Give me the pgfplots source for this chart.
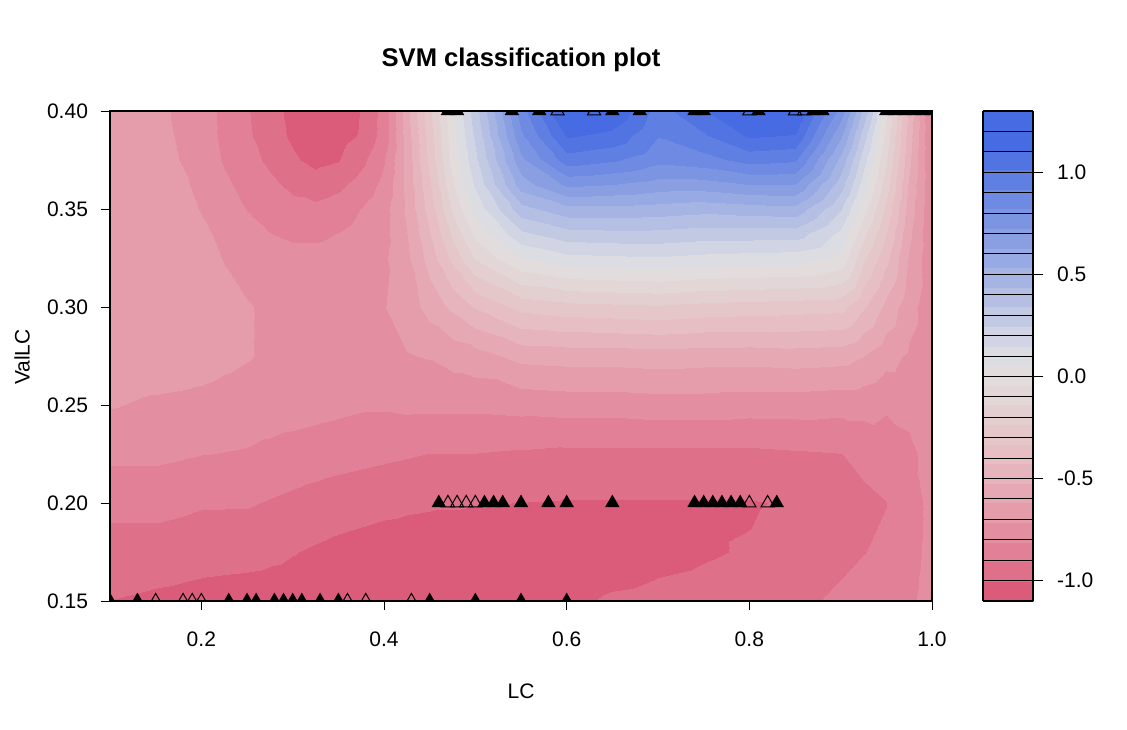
\documentclass[border=0pt]{standalone}
\usepackage{fontspec}
\setmainfont{Liberation Sans}
\usepackage{pgfplots}
\pgfplotsset{compat=1.18}
% lower half of a triangle (markers on the top edge, clipped by the box)
\pgfdeclareplotmark{tritopF}{%
  \pgfpathmoveto{\pgfqpoint{-0.57735\pgfplotmarksize}{0pt}}%
  \pgfpathlineto{\pgfqpoint{-0.86603\pgfplotmarksize}{-0.5\pgfplotmarksize}}%
  \pgfpathlineto{\pgfqpoint{0.86603\pgfplotmarksize}{-0.5\pgfplotmarksize}}%
  \pgfpathlineto{\pgfqpoint{0.57735\pgfplotmarksize}{0pt}}%
  \pgfpathclose
  \pgfusepathqfillstroke
}
\pgfdeclareplotmark{tritopO}{%
  \pgfpathmoveto{\pgfqpoint{-0.57735\pgfplotmarksize}{0pt}}%
  \pgfpathlineto{\pgfqpoint{-0.86603\pgfplotmarksize}{-0.5\pgfplotmarksize}}%
  \pgfpathlineto{\pgfqpoint{0.86603\pgfplotmarksize}{-0.5\pgfplotmarksize}}%
  \pgfpathlineto{\pgfqpoint{0.57735\pgfplotmarksize}{0pt}}%
  \pgfusepathqstroke
}
% upper part of a triangle (markers on the bottom edge)
\pgfdeclareplotmark{tribotF}{%
  \pgfpathmoveto{\pgfqpoint{-0.57735\pgfplotmarksize}{0pt}}%
  \pgfpathlineto{\pgfqpoint{0pt}{\pgfplotmarksize}}%
  \pgfpathlineto{\pgfqpoint{0.57735\pgfplotmarksize}{0pt}}%
  \pgfpathclose
  \pgfusepathqfillstroke
}
\pgfdeclareplotmark{tribotO}{%
  \pgfpathmoveto{\pgfqpoint{-0.57735\pgfplotmarksize}{0pt}}%
  \pgfpathlineto{\pgfqpoint{0pt}{\pgfplotmarksize}}%
  \pgfpathlineto{\pgfqpoint{0.57735\pgfplotmarksize}{0pt}}%
  \pgfusepathqstroke
}
\begin{document}
\begin{tikzpicture}[x=1pt,y=1pt]
\useasboundingbox (-55,-64) rectangle (508.5,300.5);
\begin{axis}[
  at={(0,0)}, anchor=south west,
  scale only axis, width=411pt, height=245pt,
  xmin=0.1, xmax=1.0, ymin=0.15, ymax=0.40,
  xtick={0.2,0.4,0.6,0.8,1.0},
  ytick={0.15,0.20,0.25,0.30,0.35,0.40},
  xtick pos=bottom, ytick pos=left,
  tick align=outside,
  major tick length=4.5pt,
  tick style={black, line width=0.5pt},
  axis line style={black, line width=0.6pt},
  /pgf/number format/assume math mode=true,
  xticklabel style={yshift=-7.5pt, font=\fontsize{10.5}{12}\selectfont, /pgf/number format/.cd, fixed, fixed zerofill, precision=1, assume math mode=true},
  yticklabel style={xshift=-3pt, font=\fontsize{10.5}{12}\selectfont, /pgf/number format/.cd, fixed, fixed zerofill, precision=2, assume math mode=true},
  colormap={svm}{
    rgb255=(218,92,122) rgb255=(222,112,138) rgb255=(225,128,150) rgb255=(227,143,161)
    rgb255=(229,157,171) rgb255=(230,169,180) rgb255=(230,180,188) rgb255=(230,190,195)
    rgb255=(229,199,202) rgb255=(228,207,208) rgb255=(227,214,214) rgb255=(226,220,220)
    rgb255=(220,221,226) rgb255=(208,212,227) rgb255=(194,201,227) rgb255=(180,191,227)
    rgb255=(166,180,227) rgb255=(152,170,227) rgb255=(138,159,226) rgb255=(124,149,226)
    rgb255=(110,138,226) rgb255=(96,127,226) rgb255=(82,116,226) rgb255=(70,107,226)
    rgb255=(70,107,226)},
  colormap access=piecewise constant,
  point meta min=-1.1, point meta max=1.3,
  colorbar,
  colorbar/width=25pt,
  colorbar style={
    at={(parent axis.north east)}, anchor=north west, xshift=17pt,
    scale only axis, height=245pt,
    ymin=-1.1, ymax=1.3,
    ytick={-1,-0.5,0,0.5,1},
    ytick pos=right,
    yticklabel pos=right,
    ytick align=outside,
    major tick length=5pt,
    tick style={black, line width=0.5pt},
    yticklabel style={xshift=3.5pt, font=\fontsize{10.5}{12}\selectfont, /pgf/number format/.cd, fixed, fixed zerofill, precision=1, assume math mode=true},
    extra y ticks={-1.0,-0.9,-0.8,-0.7,-0.6,-0.5,-0.4,-0.3,-0.2,-0.1,0,0.1,0.2,0.3,0.4,0.5,0.6,0.7,0.8,0.9,1.0,1.1,1.2},
    extra y tick labels={},
    extra y tick style={grid=major, major grid style={black, line width=0.5pt}, tick style={draw=none}},
    axis line style={black, line width=0.6pt},
    axis on top,
  },
  axis on top,
  clip=true,
  clip mode=individual,
  clip marker paths=true,
]
\addplot[surf, shader=interp, mesh/cols=27, point meta=explicit] table[row sep=\\, meta=z] {
x y z\\
0.10 0.150 -1.005\\ 0.15 0.150 -1.02\\ 0.20 0.150 -1.03\\ 0.225 0.150 -1.035\\ 0.25 0.150 -1.04\\ 0.275 0.150 -1.045\\ 0.30 0.150 -1.05\\ 0.325 0.150 -1.055\\ 0.35 0.150 -1.06\\ 0.375 0.150 -1.07\\ 0.40 0.150 -1.07\\ 0.425 0.150 -1.07\\ 0.45 0.150 -1.07\\ 0.475 0.150 -1.07\\ 0.50 0.150 -1.07\\ 0.55 0.150 -1.06\\ 0.60 0.150 -1.03\\ 0.65 0.150 -0.99\\ 0.70 0.150 -0.98\\ 0.75 0.150 -0.965\\ 0.80 0.150 -0.95\\ 0.85 0.150 -0.93\\ 0.90 0.150 -0.89\\ 0.925 0.150 -0.87\\ 0.95 0.150 -0.85\\ 0.975 0.150 -0.83\\ 1.00 0.150 -0.77\\
0.10 0.1625 -0.975\\ 0.15 0.1625 -0.99\\ 0.20 0.1625 -1.003\\ 0.225 0.1625 -1.008\\ 0.25 0.1625 -1.012\\ 0.275 0.1625 -1.018\\ 0.30 0.1625 -1.025\\ 0.325 0.1625 -1.035\\ 0.35 0.1625 -1.045\\ 0.375 0.1625 -1.055\\ 0.40 0.1625 -1.06\\ 0.425 0.1625 -1.06\\ 0.45 0.1625 -1.06\\ 0.475 0.1625 -1.065\\ 0.50 0.1625 -1.065\\ 0.55 0.1625 -1.065\\ 0.60 0.1625 -1.05\\ 0.65 0.1625 -1.025\\ 0.70 0.1625 -1.005\\ 0.75 0.1625 -0.99\\ 0.80 0.1625 -0.972\\ 0.85 0.1625 -0.95\\ 0.90 0.1625 -0.91\\ 0.925 0.1625 -0.89\\ 0.95 0.1625 -0.87\\ 0.975 0.1625 -0.84\\ 1.00 0.1625 -0.775\\
0.10 0.175 -0.95\\ 0.15 0.175 -0.95\\ 0.20 0.175 -0.96\\ 0.225 0.175 -0.965\\ 0.25 0.175 -0.97\\ 0.275 0.175 -0.985\\ 0.30 0.175 -1.00\\ 0.325 0.175 -1.015\\ 0.35 0.175 -1.03\\ 0.375 0.175 -1.04\\ 0.40 0.175 -1.05\\ 0.425 0.175 -1.05\\ 0.45 0.175 -1.05\\ 0.475 0.175 -1.06\\ 0.50 0.175 -1.06\\ 0.55 0.175 -1.07\\ 0.60 0.175 -1.07\\ 0.65 0.175 -1.06\\ 0.70 0.175 -1.04\\ 0.75 0.175 -1.015\\ 0.80 0.175 -0.995\\ 0.85 0.175 -0.97\\ 0.90 0.175 -0.93\\ 0.925 0.175 -0.91\\ 0.95 0.175 -0.89\\ 0.975 0.175 -0.85\\ 1.00 0.175 -0.78\\
0.10 0.1875 -0.915\\ 0.15 0.1875 -0.915\\ 0.20 0.1875 -0.93\\ 0.225 0.1875 -0.933\\ 0.25 0.1875 -0.935\\ 0.275 0.1875 -0.95\\ 0.30 0.1875 -0.965\\ 0.325 0.1875 -0.98\\ 0.35 0.1875 -0.995\\ 0.375 0.1875 -1.005\\ 0.40 0.1875 -1.015\\ 0.425 0.1875 -1.02\\ 0.45 0.1875 -1.023\\ 0.475 0.1875 -1.028\\ 0.50 0.1875 -1.03\\ 0.55 0.1875 -1.038\\ 0.60 0.1875 -1.04\\ 0.65 0.1875 -1.035\\ 0.70 0.1875 -1.025\\ 0.75 0.1875 -1.015\\ 0.80 0.1875 -1.005\\ 0.85 0.1875 -0.985\\ 0.90 0.1875 -0.94\\ 0.925 0.1875 -0.92\\ 0.95 0.1875 -0.90\\ 0.975 0.1875 -0.855\\ 1.00 0.1875 -0.78\\
0.10 0.200 -0.88\\ 0.15 0.200 -0.88\\ 0.20 0.200 -0.90\\ 0.225 0.200 -0.90\\ 0.25 0.200 -0.90\\ 0.275 0.200 -0.915\\ 0.30 0.200 -0.93\\ 0.325 0.200 -0.945\\ 0.35 0.200 -0.96\\ 0.375 0.200 -0.97\\ 0.40 0.200 -0.98\\ 0.425 0.200 -0.99\\ 0.45 0.200 -0.995\\ 0.475 0.200 -0.995\\ 0.50 0.200 -1.00\\ 0.55 0.200 -1.005\\ 0.60 0.200 -1.01\\ 0.65 0.200 -1.01\\ 0.70 0.200 -1.01\\ 0.75 0.200 -1.01\\ 0.80 0.200 -1.01\\ 0.85 0.200 -0.995\\ 0.90 0.200 -0.95\\ 0.925 0.200 -0.93\\ 0.95 0.200 -0.91\\ 0.975 0.200 -0.86\\ 1.00 0.200 -0.78\\
0.10 0.225 -0.79\\ 0.15 0.225 -0.79\\ 0.20 0.225 -0.81\\ 0.225 0.225 -0.815\\ 0.25 0.225 -0.82\\ 0.275 0.225 -0.835\\ 0.30 0.225 -0.85\\ 0.325 0.225 -0.86\\ 0.35 0.225 -0.87\\ 0.375 0.225 -0.88\\ 0.40 0.225 -0.89\\ 0.425 0.225 -0.90\\ 0.45 0.225 -0.91\\ 0.475 0.225 -0.91\\ 0.50 0.225 -0.91\\ 0.55 0.225 -0.92\\ 0.60 0.225 -0.93\\ 0.65 0.225 -0.93\\ 0.70 0.225 -0.93\\ 0.75 0.225 -0.93\\ 0.80 0.225 -0.93\\ 0.85 0.225 -0.92\\ 0.90 0.225 -0.91\\ 0.925 0.225 -0.88\\ 0.95 0.225 -0.86\\ 0.975 0.225 -0.83\\ 1.00 0.225 -0.78\\
0.10 0.250 -0.71\\ 0.15 0.250 -0.73\\ 0.20 0.250 -0.74\\ 0.225 0.250 -0.75\\ 0.25 0.250 -0.76\\ 0.275 0.250 -0.765\\ 0.30 0.250 -0.77\\ 0.325 0.250 -0.78\\ 0.35 0.250 -0.79\\ 0.375 0.250 -0.80\\ 0.40 0.250 -0.80\\ 0.425 0.250 -0.79\\ 0.45 0.250 -0.79\\ 0.475 0.250 -0.79\\ 0.50 0.250 -0.79\\ 0.55 0.250 -0.78\\ 0.60 0.250 -0.77\\ 0.65 0.250 -0.77\\ 0.70 0.250 -0.76\\ 0.75 0.250 -0.76\\ 0.80 0.250 -0.77\\ 0.85 0.250 -0.77\\ 0.90 0.250 -0.78\\ 0.925 0.250 -0.78\\ 0.95 0.250 -0.80\\ 0.975 0.250 -0.79\\ 1.00 0.250 -0.78\\
0.10 0.275 -0.66\\ 0.15 0.275 -0.665\\ 0.20 0.275 -0.68\\ 0.225 0.275 -0.695\\ 0.25 0.275 -0.71\\ 0.275 0.275 -0.73\\ 0.30 0.275 -0.74\\ 0.325 0.275 -0.74\\ 0.35 0.275 -0.735\\ 0.375 0.275 -0.74\\ 0.40 0.275 -0.74\\ 0.425 0.275 -0.72\\ 0.45 0.275 -0.71\\ 0.475 0.275 -0.68\\ 0.50 0.275 -0.66\\ 0.55 0.275 -0.59\\ 0.60 0.275 -0.58\\ 0.65 0.275 -0.58\\ 0.70 0.275 -0.57\\ 0.75 0.275 -0.58\\ 0.80 0.275 -0.58\\ 0.85 0.275 -0.57\\ 0.90 0.275 -0.58\\ 0.925 0.275 -0.62\\ 0.95 0.275 -0.68\\ 0.975 0.275 -0.73\\ 1.00 0.275 -0.78\\
0.10 0.300 -0.64\\ 0.15 0.300 -0.645\\ 0.20 0.300 -0.67\\ 0.225 0.300 -0.69\\ 0.25 0.300 -0.71\\ 0.275 0.300 -0.73\\ 0.30 0.300 -0.74\\ 0.325 0.300 -0.74\\ 0.35 0.300 -0.735\\ 0.375 0.300 -0.73\\ 0.40 0.300 -0.72\\ 0.425 0.300 -0.67\\ 0.45 0.300 -0.58\\ 0.475 0.300 -0.50\\ 0.50 0.300 -0.42\\ 0.55 0.300 -0.30\\ 0.60 0.300 -0.27\\ 0.65 0.300 -0.26\\ 0.70 0.300 -0.25\\ 0.75 0.300 -0.27\\ 0.80 0.300 -0.28\\ 0.85 0.300 -0.29\\ 0.90 0.300 -0.30\\ 0.925 0.300 -0.42\\ 0.95 0.300 -0.55\\ 0.975 0.300 -0.68\\ 1.00 0.300 -0.78\\
0.10 0.325 -0.63\\ 0.15 0.325 -0.645\\ 0.20 0.325 -0.68\\ 0.225 0.325 -0.72\\ 0.25 0.325 -0.75\\ 0.275 0.325 -0.77\\ 0.30 0.325 -0.78\\ 0.325 0.325 -0.78\\ 0.35 0.325 -0.77\\ 0.375 0.325 -0.755\\ 0.40 0.325 -0.73\\ 0.425 0.325 -0.64\\ 0.45 0.325 -0.48\\ 0.475 0.325 -0.30\\ 0.50 0.325 -0.13\\ 0.55 0.325 0.05\\ 0.60 0.325 0.12\\ 0.65 0.325 0.13\\ 0.70 0.325 0.14\\ 0.75 0.325 0.12\\ 0.80 0.325 0.11\\ 0.85 0.325 0.10\\ 0.90 0.325 0.03\\ 0.925 0.325 -0.22\\ 0.95 0.325 -0.40\\ 0.975 0.325 -0.63\\ 1.00 0.325 -0.79\\
0.10 0.3375 -0.63\\ 0.15 0.3375 -0.65\\ 0.20 0.3375 -0.695\\ 0.225 0.3375 -0.74\\ 0.25 0.3375 -0.78\\ 0.275 0.3375 -0.81\\ 0.30 0.3375 -0.83\\ 0.325 0.3375 -0.83\\ 0.35 0.3375 -0.81\\ 0.375 0.3375 -0.78\\ 0.40 0.3375 -0.745\\ 0.425 0.3375 -0.62\\ 0.45 0.3375 -0.43\\ 0.475 0.3375 -0.21\\ 0.50 0.3375 -0.02\\ 0.55 0.3375 0.22\\ 0.60 0.3375 0.30\\ 0.65 0.3375 0.31\\ 0.70 0.3375 0.31\\ 0.75 0.3375 0.29\\ 0.80 0.3375 0.29\\ 0.85 0.3375 0.29\\ 0.90 0.3375 0.12\\ 0.925 0.3375 -0.12\\ 0.95 0.3375 -0.33\\ 0.975 0.3375 -0.60\\ 1.00 0.3375 -0.80\\
0.10 0.350 -0.625\\ 0.15 0.350 -0.655\\ 0.20 0.350 -0.72\\ 0.225 0.350 -0.77\\ 0.25 0.350 -0.815\\ 0.275 0.350 -0.85\\ 0.30 0.350 -0.88\\ 0.325 0.350 -0.885\\ 0.35 0.350 -0.86\\ 0.375 0.350 -0.81\\ 0.40 0.350 -0.75\\ 0.425 0.350 -0.60\\ 0.45 0.350 -0.38\\ 0.475 0.350 -0.12\\ 0.50 0.350 0.08\\ 0.55 0.350 0.40\\ 0.60 0.350 0.50\\ 0.65 0.350 0.50\\ 0.70 0.350 0.49\\ 0.75 0.350 0.47\\ 0.80 0.350 0.49\\ 0.85 0.350 0.50\\ 0.90 0.350 0.25\\ 0.925 0.350 -0.01\\ 0.95 0.350 -0.26\\ 0.975 0.350 -0.57\\ 1.00 0.350 -0.80\\
0.10 0.3625 -0.62\\ 0.15 0.3625 -0.66\\ 0.20 0.3625 -0.735\\ 0.225 0.3625 -0.795\\ 0.25 0.3625 -0.84\\ 0.275 0.3625 -0.885\\ 0.30 0.3625 -0.93\\ 0.325 0.3625 -0.96\\ 0.35 0.3625 -0.93\\ 0.375 0.3625 -0.87\\ 0.40 0.3625 -0.785\\ 0.425 0.3625 -0.59\\ 0.45 0.3625 -0.34\\ 0.475 0.3625 -0.05\\ 0.50 0.3625 0.16\\ 0.55 0.3625 0.58\\ 0.60 0.3625 0.74\\ 0.65 0.3625 0.72\\ 0.70 0.3625 0.68\\ 0.75 0.3625 0.68\\ 0.80 0.3625 0.72\\ 0.85 0.3625 0.72\\ 0.90 0.3625 0.38\\ 0.925 0.3625 0.09\\ 0.95 0.3625 -0.19\\ 0.975 0.3625 -0.54\\ 1.00 0.3625 -0.81\\
0.10 0.375 -0.62\\ 0.15 0.375 -0.67\\ 0.20 0.375 -0.76\\ 0.225 0.375 -0.82\\ 0.25 0.375 -0.87\\ 0.275 0.375 -0.93\\ 0.30 0.375 -0.99\\ 0.325 0.375 -1.03\\ 0.35 0.375 -1.01\\ 0.375 0.375 -0.935\\ 0.40 0.375 -0.82\\ 0.425 0.375 -0.58\\ 0.45 0.375 -0.30\\ 0.475 0.375 0.00\\ 0.50 0.375 0.22\\ 0.55 0.375 0.70\\ 0.60 0.375 0.97\\ 0.65 0.375 0.93\\ 0.70 0.375 0.85\\ 0.75 0.375 0.88\\ 0.80 0.375 0.95\\ 0.85 0.375 0.93\\ 0.90 0.375 0.50\\ 0.925 0.375 0.18\\ 0.95 0.375 -0.13\\ 0.975 0.375 -0.50\\ 1.00 0.375 -0.82\\
0.10 0.3875 -0.62\\ 0.15 0.3875 -0.68\\ 0.20 0.3875 -0.77\\ 0.225 0.3875 -0.83\\ 0.25 0.3875 -0.89\\ 0.275 0.3875 -0.965\\ 0.30 0.3875 -1.02\\ 0.325 0.3875 -1.055\\ 0.35 0.3875 -1.04\\ 0.375 0.3875 -0.995\\ 0.40 0.3875 -0.865\\ 0.425 0.3875 -0.57\\ 0.45 0.3875 -0.28\\ 0.475 0.3875 0.02\\ 0.50 0.3875 0.26\\ 0.55 0.3875 0.80\\ 0.60 0.3875 1.12\\ 0.65 0.3875 1.08\\ 0.70 0.3875 0.92\\ 0.75 0.3875 1.00\\ 0.80 0.3875 1.12\\ 0.85 0.3875 1.10\\ 0.90 0.3875 0.64\\ 0.925 0.3875 0.28\\ 0.95 0.3875 -0.08\\ 0.975 0.3875 -0.48\\ 1.00 0.3875 -0.83\\
0.10 0.400 -0.62\\ 0.15 0.400 -0.69\\ 0.20 0.400 -0.77\\ 0.225 0.400 -0.835\\ 0.25 0.400 -0.90\\ 0.275 0.400 -0.97\\ 0.30 0.400 -1.03\\ 0.325 0.400 -1.075\\ 0.35 0.400 -1.06\\ 0.375 0.400 -1.00\\ 0.40 0.400 -0.87\\ 0.425 0.400 -0.55\\ 0.45 0.400 -0.25\\ 0.475 0.400 0.05\\ 0.50 0.400 0.30\\ 0.55 0.400 0.88\\ 0.60 0.400 1.24\\ 0.65 0.400 1.20\\ 0.70 0.400 0.97\\ 0.75 0.400 1.10\\ 0.80 0.400 1.25\\ 0.85 0.400 1.22\\ 0.90 0.400 0.78\\ 0.925 0.400 0.40\\ 0.95 0.400 -0.02\\ 0.975 0.400 -0.45\\ 1.00 0.400 -0.84\\
};
% bottom row (y = 0.15): only the part inside the box is visible
\addplot[black, only marks, mark=tribotO, mark size=3.8pt, mark options={draw=black, line width=0.5pt}] coordinates {
(0.15,0.15) (0.18,0.15) (0.19,0.15) (0.20,0.15) (0.36,0.15) (0.38,0.15) (0.43,0.15)
};
\addplot[black, only marks, mark=tribotF, mark size=3.8pt, mark options={draw=black, fill=black, line width=0.4pt}] coordinates {
(0.10,0.15) (0.13,0.15) (0.23,0.15) (0.25,0.15) (0.26,0.15) (0.28,0.15) (0.29,0.15) (0.30,0.15) (0.31,0.15) (0.33,0.15) (0.35,0.15) (0.45,0.15) (0.50,0.15) (0.55,0.15) (0.60,0.15)
};
% middle row (y = 0.20)
\addplot[black, only marks, mark=triangle, mark size=3.8pt, mark options={draw=black, line width=0.5pt}] coordinates {
(0.47,0.20) (0.48,0.20) (0.49,0.20) (0.50,0.20) (0.80,0.20) (0.82,0.20)
};
\addplot[black, only marks, mark=triangle*, mark size=3.8pt, mark options={draw=black, fill=black, line width=0.4pt}] coordinates {
(0.46,0.20) (0.51,0.20) (0.52,0.20) (0.53,0.20) (0.55,0.20) (0.58,0.20) (0.60,0.20) (0.65,0.20) (0.74,0.20) (0.75,0.20) (0.76,0.20) (0.77,0.20) (0.78,0.20) (0.79,0.20) (0.83,0.20)
};
% top row (y = 0.40): only the part inside the box is visible
\addplot[black, only marks, mark=tritopO, mark size=3.8pt, mark options={draw=black, line width=0.5pt}] coordinates {
(0.59,0.40) (0.63,0.40) (0.80,0.40) (0.85,0.40) (0.86,0.40)
};
\addplot[black, only marks, mark=tritopF, mark size=3.8pt, mark options={draw=black, fill=black, line width=0.4pt}] coordinates {
(0.47,0.40) (0.48,0.40) (0.54,0.40) (0.57,0.40) (0.65,0.40) (0.68,0.40) (0.74,0.40) (0.75,0.40) (0.81,0.40) (0.87,0.40) (0.88,0.40) (0.95,0.40) (0.96,0.40) (0.97,0.40) (0.98,0.40) (0.99,0.40) (1.00,0.40)
};
\end{axis}
\node[font=\bfseries\fontsize{12.8}{15}\selectfont] at (205.5,270.5) {SVM classification plot};
\node[font=\fontsize{10.5}{12}\selectfont] at (205.5,-45) {LC};
\node[font=\fontsize{10.5}{12}\selectfont, rotate=90] at (-44,122) {ValLC};
\end{tikzpicture}
\end{document}
